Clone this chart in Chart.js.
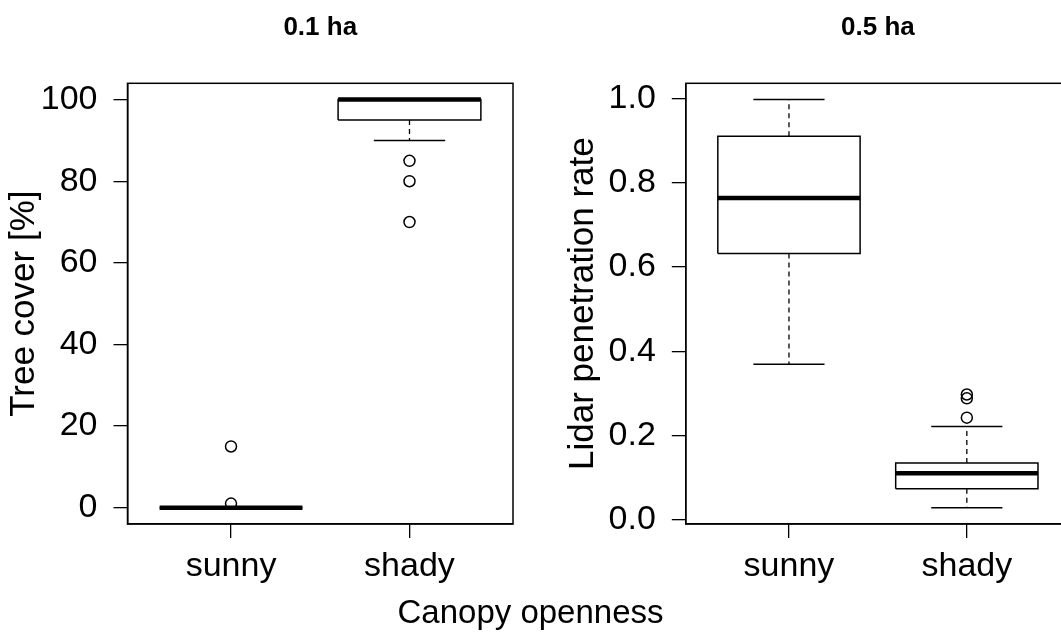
<!DOCTYPE html>
<html>
<head>
<meta charset="utf-8">
<script src="https://cdn.jsdelivr.net/npm/chart.js@4"></script>
<style>
  html, body { margin: 0; padding: 0; background: #fff; }
  body { width: 1061px; height: 637px; overflow: hidden; position: relative; font-family: "Liberation Sans", Arial, sans-serif; }
  .panel { position: absolute; top: 0; height: 637px; }
  #xlabel { position: absolute; left: 0; width: 1061px; top: 596px; text-align: center; font-size: 33px; line-height: 32px; color: #000; }
</style>
</head>
<body>
<div class="panel" style="left:0;width:530px"><canvas id="cover-chart" width="530" height="637"></canvas></div>
<div class="panel" style="left:530px;width:560px"><canvas id="lidar-chart" width="560" height="637"></canvas></div>
<div id="xlabel">Canopy openness</div>
<script>
// groups on the x axis
const groups = ['sunny', 'shady'];

// tree cover [%] at 0.1 ha
const coverLow = [0, 90];
const coverQ1 = [0, 95];
const coverMedian = [0, 100];
const coverQ3 = [0, 100];
const coverHigh = [0, 100];
const coverOutliers = [[15, 1], [85, 80, 70]];
const coverTicks = [0, 20, 40, 60, 80, 100];

// lidar penetration rate at 0.5 ha
const lidarLow = [0.369, 0.028];
const lidarQ1 = [0.632, 0.073];
const lidarMedian = [0.764, 0.110];
const lidarQ3 = [0.911, 0.134];
const lidarHigh = [0.998, 0.221];
const lidarOutliers = [[], [0.242, 0.288, 0.297]];
const lidarTicks = [0, 0.2, 0.4, 0.6, 0.8, 1.0];

Chart.defaults.font.family = '"Liberation Sans", Arial, sans-serif';
Chart.defaults.color = '#000';

const BOX_HALF = 0.4;
const STAPLE_HALF = 0.2;

function segment(x0, y0, x1, y1) {
    return [{ x: x0, y: y0 }, { x: x1, y: y1 }];
}

function lineSet(data, width, dash, order) {
    return {
        data: data,
        showLine: true,
        fill: false,
        borderColor: '#000',
        borderWidth: width,
        borderDash: dash || [],
        borderCapStyle: 'butt',
        pointRadius: 0,
        order: order
    };
}

// one set of line/point datasets per box
function boxDatasets(low, q1, median, q3, high, outliers) {
    const sets = [];
    groups.forEach(function (g, i) {
        const x = i + 1;
        sets.push(lineSet(segment(x, q3[i], x, high[i]), 1.3, [5, 4], 4));
        sets.push(lineSet(segment(x, q1[i], x, low[i]), 1.3, [5, 4], 4));
        sets.push(lineSet(segment(x - STAPLE_HALF, high[i], x + STAPLE_HALF, high[i]), 1.5, null, 3));
        sets.push(lineSet(segment(x - STAPLE_HALF, low[i], x + STAPLE_HALF, low[i]), 1.5, null, 3));
        sets.push(lineSet([
            { x: x - BOX_HALF, y: q1[i] }, { x: x + BOX_HALF, y: q1[i] },
            { x: x + BOX_HALF, y: q3[i] }, { x: x - BOX_HALF, y: q3[i] },
            { x: x - BOX_HALF, y: q1[i] }
        ], 1.5, null, 2));
        sets.push({
            data: outliers[i].map(function (v) { return { x: x, y: v }; }),
            showLine: false,
            pointStyle: 'circle',
            pointRadius: 5.5,
            pointBorderWidth: 1.5,
            pointBorderColor: '#000',
            pointBackgroundColor: 'rgba(0,0,0,0)',
            order: 1
        });
        sets.push(lineSet(segment(x - BOX_HALF, median[i], x + BOX_HALF, median[i]), 4.5, null, 0));
    });
    return sets;
}

// y range padded by 4% like base graphics
function paddedRange(low, high, outliers) {
    const all = low.concat(high, [].concat.apply([], outliers));
    const lo = Math.min.apply(null, all);
    const hi = Math.max.apply(null, all);
    const pad = (hi - lo) * 0.04;
    return [lo - pad, hi + pad];
}

const frame = {
    id: 'frame',
    afterDraw: function (chart) {
        const a = chart.chartArea;
        const ctx = chart.ctx;
        ctx.save();
        ctx.strokeStyle = '#000';
        ctx.lineWidth = 1.5;
        ctx.strokeRect(a.left, a.top, a.right - a.left, a.bottom - a.top);
        ctx.restore();
    }
};

function makeChart(el, cfg) {
    const range = paddedRange(cfg.low, cfg.high, cfg.outliers);
    return new Chart(el, {
        type: 'scatter',
        data: { datasets: boxDatasets(cfg.low, cfg.q1, cfg.median, cfg.q3, cfg.high, cfg.outliers) },
        options: {
            responsive: false,
            animation: false,
            events: [],
            layout: { padding: { left: 0, right: cfg.padRight, top: 0, bottom: 0 } },
            plugins: {
                legend: { display: false },
                tooltip: { enabled: false },
                title: {
                    display: true,
                    text: cfg.title,
                    fullSize: false,
                    font: { size: 26, weight: 'bold' },
                    padding: { top: 12, bottom: 40.1 }
                }
            },
            scales: {
                x: {
                    type: 'linear',
                    min: 0.42,
                    max: 2.58,
                    afterBuildTicks: function (scale) {
                        scale.ticks = groups.map(function (g, i) { return { value: i + 1 }; });
                    },
                    afterFit: function (scale) { scale.height = 113; },
                    ticks: {
                        callback: function (v) { return groups[v - 1]; },
                        font: { size: 34 },
                        padding: 8,
                        maxRotation: 0,
                        autoSkip: false
                    },
                    grid: { drawOnChartArea: false, tickLength: 14, color: '#000', lineWidth: 1.3 },
                    border: { display: true, color: '#000', width: 1.5 }
                },
                y: {
                    min: range[0],
                    max: range[1],
                    afterBuildTicks: function (scale) {
                        scale.ticks = cfg.ticks.map(function (v) { return { value: v }; });
                    },
                    afterFit: function (scale) { scale.width = cfg.axisWidth; },
                    ticks: {
                        callback: cfg.tickFormat,
                        font: { size: 34 },
                        padding: 16
                    },
                    grid: { drawOnChartArea: false, tickLength: 14, color: '#000', lineWidth: 1.3 },
                    border: { display: true, color: '#000', width: 1.5 },
                    title: {
                        display: true,
                        text: cfg.yTitle,
                        font: { size: 35 },
                        padding: { top: cfg.titlePad, bottom: 0 }
                    }
                }
            }
        },
        plugins: [frame]
    });
}

const coverChart = makeChart(document.getElementById('cover-chart'), {
    title: '0.1 ha',
    yTitle: 'Tree cover [%]',
    low: coverLow, q1: coverQ1, median: coverMedian, q3: coverQ3, high: coverHigh,
    outliers: coverOutliers,
    ticks: coverTicks,
    tickFormat: function (v) { return String(v); },
    axisWidth: 127.5,
    padRight: 17,
    titlePad: 3
});

const lidarChart = makeChart(document.getElementById('lidar-chart'), {
    title: '0.5 ha',
    yTitle: 'Lidar penetration rate',
    low: lidarLow, q1: lidarQ1, median: lidarMedian, q3: lidarQ3, high: lidarHigh,
    outliers: lidarOutliers,
    ticks: lidarTicks,
    tickFormat: function (v) { return v.toFixed(1); },
    axisWidth: 155.8,
    padRight: 20,
    titlePad: 32
});
</script>
</body>
</html>
